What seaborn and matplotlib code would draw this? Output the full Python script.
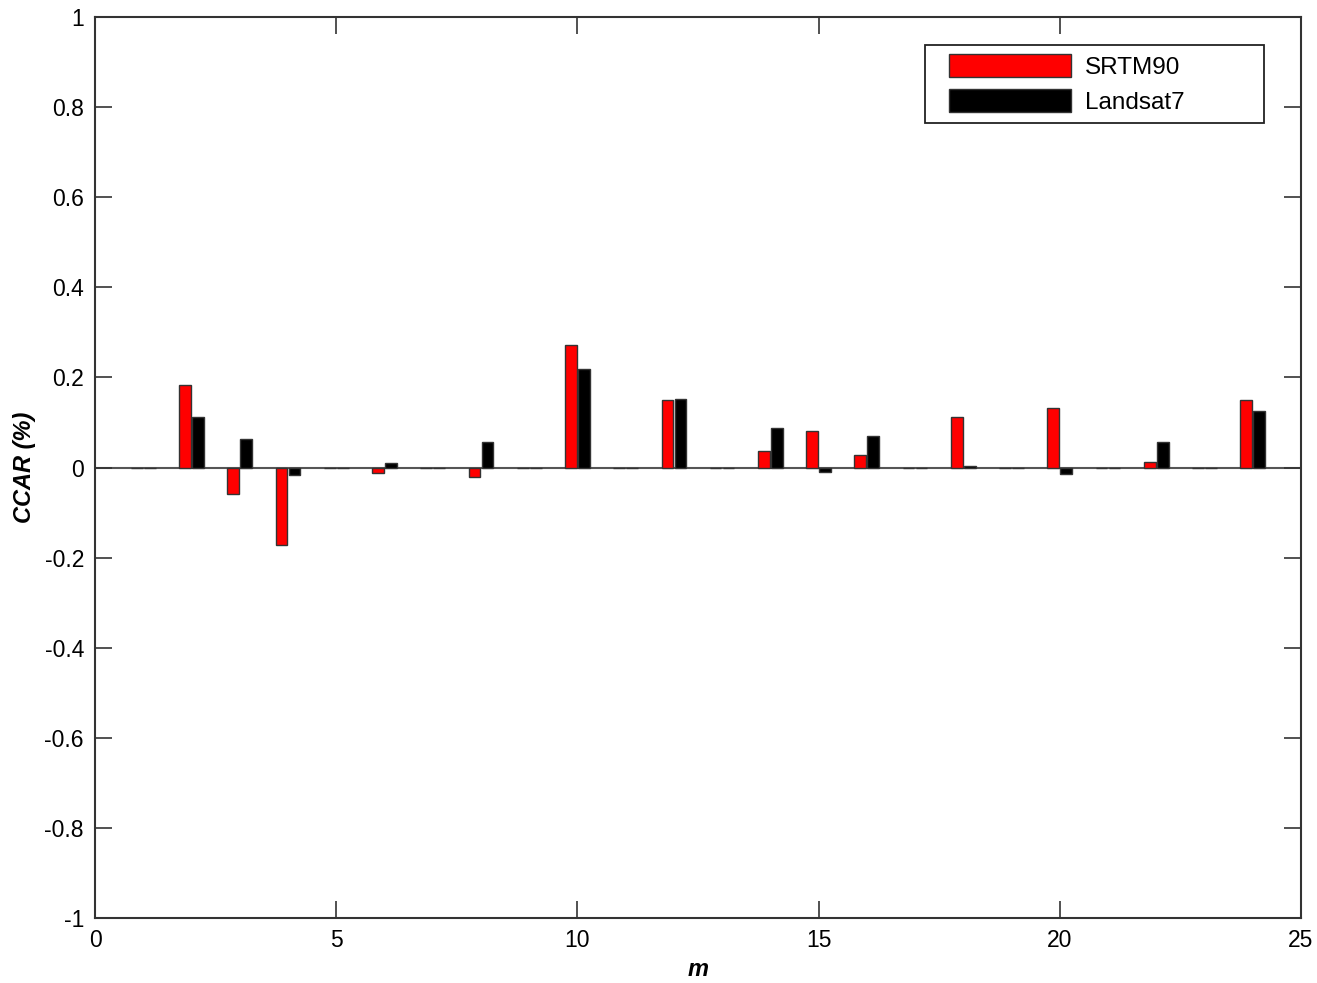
import matplotlib
matplotlib.use("Agg")
import matplotlib.pyplot as plt
from matplotlib.patches import Rectangle
import seaborn as sns
import pandas as pd
import numpy as np

m_values = list(range(1, 25))
srtm90 = [0.0, 0.183, -0.059, -0.173, 0.0, -0.012, 0.0, -0.021, 0.0, 0.271, 0.0, 0.150,
          0.0, 0.037, 0.080, 0.028, 0.0, 0.113, 0.0, 0.131, 0.0, 0.013, 0.0, 0.149]
landsat7 = [0.0, 0.111, 0.064, -0.016, 0.0, 0.010, 0.0, 0.056, 0.0, 0.218, 0.0, 0.152,
            0.0, 0.087, -0.010, 0.070, 0.0, 0.004, 0.0, -0.014, 0.0, 0.056, 0.0, 0.126]
series_names = ["SRTM90", "Landsat7"]
series_colors = ["#ff0000", "#000000"]
x_ticks = [0, 5, 10, 15, 20, 25]
y_ticks = [-1, -0.8, -0.6, -0.4, -0.2, 0, 0.2, 0.4, 0.6, 0.8, 1]
y_tick_labels = ["-1", "-0.8", "-0.6", "-0.4", "-0.2", "0", "0.2", "0.4", "0.6", "0.8", "1"]

df = pd.DataFrame({
    "m": m_values * 2,
    "value": srtm90 + landsat7,
    "series": [series_names[0]] * len(m_values) + [series_names[1]] * len(m_values),
})

sns.set_style("white")
plt.rcParams["font.family"] = ["Liberation Sans", "DejaVu Sans"]
plt.rcParams["text.color"] = "black"
plt.rcParams["axes.labelcolor"] = "black"

W, H = 1317, 983
fig = plt.figure(figsize=(W / 100, H / 100), dpi=100)
ax = fig.add_axes([95 / W, 1 - 918 / H, (1301 - 95) / W, (918 - 17) / H])

sns.barplot(data=df, x="m", y="value", hue="series", hue_order=series_names,
            palette=series_colors, saturation=1, native_scale=True, width=0.54, gap=0.1,
            edgecolor="#333333", linewidth=1.0, errorbar=None, ax=ax, legend=True)

ax.axhline(0, color="#555555", linewidth=1.5, zorder=0.5)

ax.set_xlim(0, 25)
ax.set_ylim(-1, 1)
ax.set_xticks(x_ticks)
ax.set_xticklabels([str(t) for t in x_ticks])
ax.set_yticks(y_ticks)
ax.set_yticklabels(y_tick_labels)
ax.tick_params(direction="in", length=12, width=1.2, labelsize=16.5, colors="#333333",
               labelcolor="black", top=True, right=True, bottom=True, left=True, pad=8)
for sp in ax.spines.values():
    sp.set_visible(True)
    sp.set_color("#333333")
    sp.set_linewidth(1.5)

ax.set_xlabel("m", fontsize=17, fontweight="bold", fontstyle="italic", labelpad=4, color="black")
ax.set_ylabel("CCAR (%)", fontsize=17, fontweight="bold", fontstyle="italic", labelpad=6, color="black")

handles, labels = ax.get_legend_handles_labels()
if ax.get_legend() is not None:
    ax.get_legend().remove()
leg = fig.legend(handles, labels, loc="upper left",
                 bbox_to_anchor=(949 / W, 1 - 54 / H), bbox_transform=fig.transFigure,
                 borderaxespad=0, borderpad=0, fontsize=17.5, handlelength=5.0,
                 handleheight=1.1, frameon=False, labelspacing=0.42, handletextpad=0.6,
                 labelcolor="black")
for h in leg.legend_handles:
    h.set_edgecolor("#333333")
    h.set_linewidth(1.0)

box = Rectangle((925 / W, 1 - 123 / H), (1264 - 925) / W, (123 - 45) / H,
                transform=fig.transFigure, facecolor="white", edgecolor="#222222",
                linewidth=1.3, zorder=leg.get_zorder() - 0.1)
fig.add_artist(box)

fig.savefig("out.png", dpi=100, facecolor="white")
